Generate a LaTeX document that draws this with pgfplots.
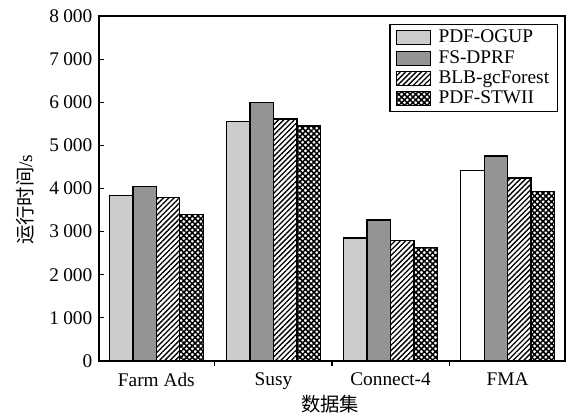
\documentclass[border=0pt]{standalone}
\usepackage{pgfplots}
\pgfplotsset{compat=1.18}
\usepackage{fontspec}
\setmainfont{Liberation Serif}
\newfontfamily\cjk{Noto Sans CJK SC}
\usetikzlibrary{patterns.meta}
\begin{document}
\fontsize{14.5pt}{17pt}\selectfont
\begin{tikzpicture}
\begin{axis}[
  name=ax,
  scale only axis,
  width=349.5pt, height=258.75pt,
  ymin=0, ymax=8000,
  xmin=-0.49, xmax=3.49,
  ytick={0,1000,...,8000},
  xtick={0,1,2,3},
  xticklabels={Farm Ads,Susy,Connect-4,FMA},
  minor xtick={0.5,1.5,2.5},
  major x tick style={draw=none},
  minor tick length=4pt,
  major tick length=4pt,
  tick align=inside,
  xtick pos=bottom, ytick pos=left,
  axis line style={line width=1.2pt},
  tick style={line width=0.8pt, black},
  /pgf/number format/assume math mode=true,
  /pgf/number format/1000 sep={\kern0.22em},
  ticklabel style={font=\fontsize{14.5pt}{17pt}\selectfont},
  ylabel={{\cjk 运行时间}/s},
  xlabel={\cjk 数据集},
  every axis y label/.style={at={(axis description cs:-0.159,0.467)}, rotate=90, anchor=center},
  every axis x label/.style={at={(axis description cs:0.496,-0.125)}, anchor=center},
  label style={font=\fontsize{14.5pt}{17pt}\selectfont},
  ybar, bar width=0.2,
  legend style={at={(1,1)}, anchor=north east, xshift=-5pt, yshift=-6pt,
    draw=black, line width=0.8pt, font=\fontsize{14.5pt}{16.5pt}\selectfont,
    row sep=-0.5pt, inner xsep=4.5pt, inner ysep=2pt, cells={anchor=west}},
  legend image code/.code={\draw[#1, line width=0.8pt] (0pt,-5.25pt) rectangle (25.5pt,5.25pt);\path (29pt,0pt);},
  every axis plot/.append style={draw=black, line width=1pt},
]
\addplot[fill=black!20, bar shift=-0.3] coordinates {(0,3840) (1,5560) (2,2850)};
\addlegendentry{PDF-OGUP}
\addplot[fill=black!42, bar shift=-0.1] coordinates {(0,4040) (1,6000) (2,3270) (3,4750)};
\addlegendentry{FS-DPRF}
\addplot[fill=white, postaction={pattern={Lines[angle=45,distance=2.8pt,line width=1pt]}}, bar shift=0.1] coordinates {(0,3790) (1,5610) (2,2790) (3,4240)};
\addlegendentry{BLB-gcForest}
\addplot[fill=white, postaction={pattern={Hatch[angle=45,distance=3pt,line width=1.15pt]}}, bar shift=0.3] coordinates {(0,3400) (1,5450) (2,2630) (3,3930)};
\addlegendentry{PDF-STWII}
\addplot[fill=white, bar shift=-0.3, forget plot] coordinates {(3,4420)};
\end{axis}
\path (ax.south west) ++(-74.25pt,-41.6pt) coordinate (bl);
\path (ax.north east) ++(2.25pt,12pt) coordinate (tr);
\useasboundingbox (bl) rectangle (tr);
\end{tikzpicture}
\end{document}
